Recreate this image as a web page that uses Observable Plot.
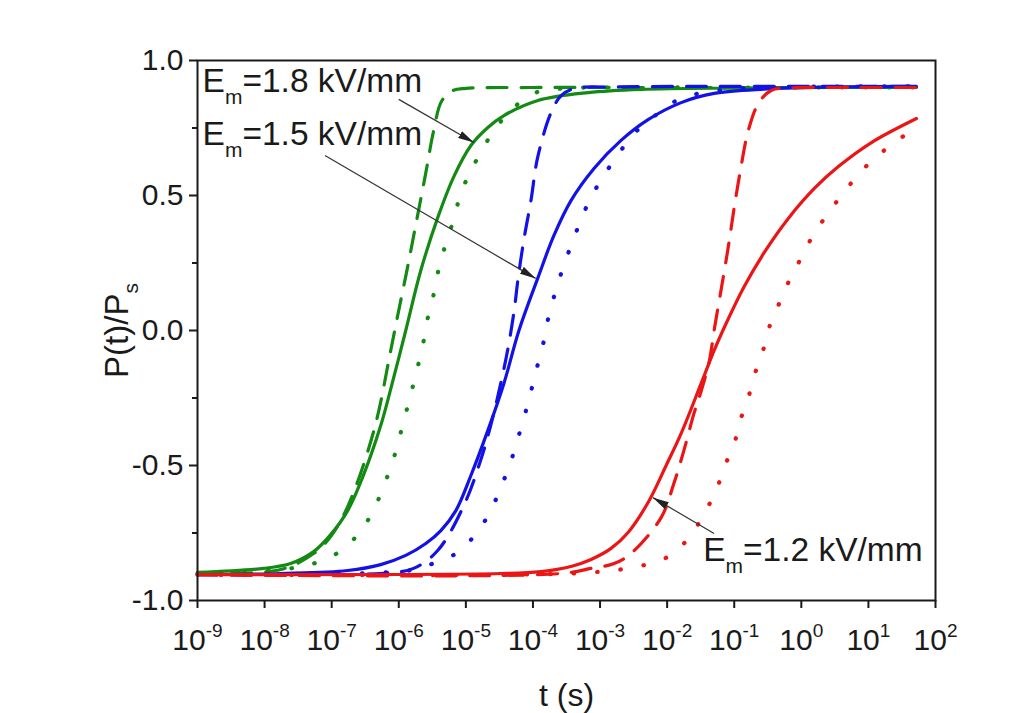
<!DOCTYPE html>
<html><head><meta charset="utf-8">
<script src="https://cdn.jsdelivr.net/npm/d3@7"></script>
<script src="https://cdn.jsdelivr.net/npm/@observablehq/plot@0.6"></script>
<style>body{margin:0;background:#fff;} svg{display:block;}</style>
</head><body><div id="chart"></div>
<script>
// ---- data: log10(t) and P(t)/Ps ----
const greenSolidLogT = [-9, -8.015, -7.612, -7.269, -7.015, -6.761, -6.522, -6.269, -6.164, -5.896, -5.672, -5.418, -5.179, -4.925, -4.672, -4.433, -3.925, -3.179, -2.388, -1.0, 0.5, 1.716];
const greenSolidP    = [-0.896, -0.881, -0.863, -0.819, -0.756, -0.667, -0.533, -0.352, -0.259, 0.0, 0.222, 0.419, 0.570, 0.685, 0.752, 0.796, 0.852, 0.881, 0.893, 0.898, 0.9, 0.9];
const greenDashLogT  = [-9, -7.76, -7.27, -7.015, -6.761, -6.37, -6.12, -6.01, -5.87, -5.74, -5.60, -5.48, -5.36, -5.19, -5.0, -4.0, -2.0, 0.0, 1.716];
const greenDashP     = [-0.9, -0.885, -0.826, -0.763, -0.652, -0.370, -0.074, 0.063, 0.233, 0.40, 0.58, 0.74, 0.85, 0.889, 0.897, 0.9, 0.9, 0.9, 0.9];
const greenDotLogT   = [-9, -7.61, -7.27, -6.90, -6.57, -6.36, -6.21, -6.09, -5.99, -5.90, -5.81, -5.72, -5.64, -5.57, -5.49, -5.42, -5.33, -5.22, -5.12, -4.99, -4.82, -4.58, -4.33, -3.99, -3.58, -2.5, -1.0, 0.5, 1.716];
const greenDotP      = [-0.9, -0.881, -0.863, -0.822, -0.744, -0.656, -0.567, -0.485, -0.396, -0.311, -0.226, -0.137, -0.052, 0.044, 0.122, 0.211, 0.296, 0.381, 0.470, 0.559, 0.641, 0.741, 0.815, 0.878, 0.896, 0.9, 0.9, 0.9, 0.9];

const blueSolidLogT  = [-9, -7.761, -6.761, -6.269, -5.896, -5.597, -5.373, -5.149, -4.925, -4.672, -4.433, -4.209, -3.925, -3.687, -3.433, -3.090, -2.687, -2.284, -1.791, -1.299, -0.552, 0.5, 1.716];
const blueSolidP     = [-0.904, -0.9, -0.889, -0.867, -0.833, -0.789, -0.741, -0.667, -0.537, -0.370, -0.196, 0.0, 0.196, 0.352, 0.481, 0.600, 0.704, 0.781, 0.844, 0.878, 0.894, 0.902, 0.904];
const blueDashLogT   = [-9, -6.27, -5.78, -5.42, -5.03, -4.78, -4.63, -4.48, -4.37, -4.28, -4.22, -4.13, -4.03, -3.93, -3.73, -3.58, -3.39, -2.8, -1.5, 0.0, 1.716];
const blueDashP      = [-0.904, -0.9, -0.881, -0.815, -0.648, -0.481, -0.352, -0.196, -0.063, 0.074, 0.196, 0.344, 0.481, 0.641, 0.807, 0.870, 0.896, 0.902, 0.904, 0.904, 0.904];
const blueDotLogT    = [-9, -5.85, -5.49, -5.15, -4.82, -4.61, -4.46, -4.33, -4.22, -4.12, -4.03, -3.94, -3.85, -3.78, -3.69, -3.58, -3.46, -3.33, -3.18, -2.99, -2.76, -2.49, -2.12, -1.79, -1.19, -0.3, 0.7, 1.716];
const blueDotP       = [-0.904, -0.889, -0.863, -0.826, -0.744, -0.656, -0.570, -0.485, -0.396, -0.311, -0.226, -0.137, -0.052, 0.037, 0.122, 0.211, 0.296, 0.381, 0.470, 0.556, 0.641, 0.730, 0.807, 0.860, 0.890, 0.901, 0.904, 0.904];

const redSolidLogT   = [-9, -4.48, -3.88, -3.433, -3.134, -2.836, -2.582, -2.284, -2.015, -1.791, -1.493, -1.299, -1.149, -0.851, -0.552, -0.194, 0.194, 0.552, 1.045, 1.716];
const redSolidP      = [-0.904, -0.9, -0.893, -0.874, -0.848, -0.807, -0.748, -0.637, -0.500, -0.381, -0.196, -0.074, 0.011, 0.163, 0.289, 0.415, 0.526, 0.607, 0.696, 0.785];
const redDashLogT    = [-9, -3.58, -3.13, -2.79, -2.54, -2.09, -1.90, -1.75, -1.60, -1.49, -1.37, -1.30, -1.19, -1.09, -1.00, -0.90, -0.79, -0.64, -0.45, -0.2, 0.5, 1.0, 1.716];
const redDashP       = [-0.904, -0.9, -0.881, -0.863, -0.826, -0.693, -0.567, -0.444, -0.307, -0.222, -0.111, 0.0, 0.159, 0.307, 0.456, 0.604, 0.741, 0.841, 0.889, 0.898, 0.9, 0.9, 0.9];
const redDotLogT     = [-9, -3.43, -2.69, -2.36, -2.01, -1.67, -1.45, -1.27, -1.15, -1.00, -0.91, -0.79, -0.69, -0.57, -0.48, -0.33, -0.18, 0.0, 0.19, 0.43, 0.70, 1.01, 1.37, 1.716];
const redDotP        = [-0.904, -0.9, -0.885, -0.870, -0.841, -0.767, -0.678, -0.593, -0.507, -0.419, -0.333, -0.248, -0.159, -0.074, 0.011, 0.100, 0.185, 0.270, 0.359, 0.444, 0.533, 0.619, 0.693, 0.752];

const xTickExponents = [-9, -8, -7, -6, -5, -4, -3, -2, -1, 0, 1, 2];
const yMajorTicks = [-1.0, -0.5, 0.0, 0.5, 1.0];
const yMinorTicks = [-0.75, -0.25, 0.25, 0.75];

const annFields  = ["1.8", "1.5", "1.2"];
const annLogT    = [-8.925, -8.925, -1.463];
const annP       = [0.922, 0.726, -0.815];
const arrowFromLogT = [-6.0, -7.10, -1.30];
const arrowFromP    = [0.856, 0.648, -0.752];
const arrowToLogT   = [-4.88, -3.96, -2.21];
const arrowToP      = [0.696, 0.193, -0.619];

const GREEN = "#138a13", BLUE = "#1212e6", RED = "#ec1515";

// ---- build tables ----
const series = [
  {logT: greenSolidLogT, p: greenSolidP, color: GREEN, style: "solid"},
  {logT: greenDashLogT,  p: greenDashP,  color: GREEN, style: "dash"},
  {logT: greenDotLogT,   p: greenDotP,   color: GREEN, style: "dot"},
  {logT: blueSolidLogT,  p: blueSolidP,  color: BLUE,  style: "solid"},
  {logT: blueDashLogT,   p: blueDashP,   color: BLUE,  style: "dash"},
  {logT: blueDotLogT,    p: blueDotP,    color: BLUE,  style: "dot"},
  {logT: redSolidLogT,   p: redSolidP,   color: RED,   style: "solid"},
  {logT: redDashLogT,    p: redDashP,    color: RED,   style: "dash"},
  {logT: redDotLogT,     p: redDotP,     color: RED,   style: "dot"}
];
const styleOpts = {
  solid: {strokeWidth: 3.2},
  dash:  {strokeWidth: 3.2, strokeDasharray: "20 14"},
  dot:   {strokeWidth: 4.2, strokeDasharray: "0.5 23", strokeLinecap: "round"}
};
const lineMarks = series.map(s => {
  const rows = s.logT.map((e, i) => ({t: Math.pow(10, e), p: s.p[i]}));
  return Plot.line(rows, {x: "t", y: "p", stroke: s.color, curve: "catmull-rom", ...styleOpts[s.style]});
});
const ann = annFields.map((f, i) => ({t: Math.pow(10, annLogT[i]), p: annP[i], text: "E_m=" + f + " kV/mm"}));
const arrows = annFields.map((f, i) => ({
  x1: Math.pow(10, arrowFromLogT[i]), y1: arrowFromP[i],
  x2: Math.pow(10, arrowToLogT[i]),   y2: arrowToP[i]
}));

const FONT = "'Liberation Sans', Arial, sans-serif";
const chart = Plot.plot({
  width: 1012, height: 713,
  marginLeft: 197, marginRight: 77, marginTop: 60, marginBottom: 113,
  style: {fontFamily: FONT, background: "white", color: "#1a1a1a"},
  x: {type: "log", domain: [1e-9, 1e2]},
  y: {domain: [-1, 1]},
  marks: [
    ...lineMarks,
    Plot.link(arrows, {x1: "x1", y1: "y1", x2: "x2", y2: "y2", stroke: "#333", strokeWidth: 1.2, className: "annArrow"}),
    Plot.text(ann, {x: "t", y: "p", text: "text", textAnchor: "start", lineAnchor: "middle", fontSize: 33.5, fill: "#1a1a1a", className: "annText"}),
    Plot.frame({stroke: "#1a1a1a", strokeWidth: 2}),
    Plot.axisX({ticks: xTickExponents.map(e => Math.pow(10, e)), tickSize: 8, tickPadding: 20, strokeWidth: 2,
      tickFormat: d => String(Math.round(Math.log10(d))), fontSize: 30, label: null}),
    Plot.axisY({ticks: yMajorTicks, tickSize: 8, tickPadding: 6, strokeWidth: 2,
      tickFormat: d => d.toFixed(1), fontSize: 30, label: null}),
    Plot.axisY({ticks: yMinorTicks, tickSize: 5, strokeWidth: 2, tickFormat: () => "", label: null}),
    Plot.text(["P(t)/P_s"], {frameAnchor: "left", dx: -70, rotate: -90, lineAnchor: "bottom", textAnchor: "middle", fontSize: 33, fill: "#1a1a1a", className: "yTitle"}),
    Plot.text(["t (s)"], {frameAnchor: "bottom", dy: 95, lineAnchor: "middle", fontSize: 32, fill: "#1a1a1a"})
  ]
});
document.getElementById("chart").appendChild(chart);

// ---- rich text: superscripts / subscripts ----
const svg = d3.select(chart);
svg.selectAll('g[aria-label="x-axis tick label"] text').each(function() {
  const e = this.textContent; const t = d3.select(this); t.text("");
  t.append("tspan").text("10");
  t.append("tspan").attr("font-size", 19).attr("dy", -13).text(e);
});
svg.selectAll("g.annText text").each(function() {
  const s = this.textContent; const rest = s.slice(3); const t = d3.select(this); t.text("");
  t.append("tspan").text("E");
  t.append("tspan").attr("font-size", 21).attr("dy", 12).text("m");
  t.append("tspan").attr("dy", -12).text(rest);
});
svg.selectAll("g.yTitle text").each(function() {
  const t = d3.select(this); t.text("");
  t.append("tspan").text("P(t)/P");
  t.append("tspan").attr("font-size", 21).attr("dy", 10).text("s");
});
// filled arrowheads
const defs = svg.append("defs");
defs.append("marker").attr("id", "ah").attr("viewBox", "0 0 16 8")
  .attr("refX", 16).attr("refY", 4).attr("markerWidth", 16).attr("markerHeight", 8)
  .attr("markerUnits", "userSpaceOnUse").attr("orient", "auto")
  .append("path").attr("d", "M0,0L16,4L0,8Z").attr("fill", "#222");
svg.selectAll("g.annArrow path").attr("marker-end", "url(#ah)");
</script></body></html>
